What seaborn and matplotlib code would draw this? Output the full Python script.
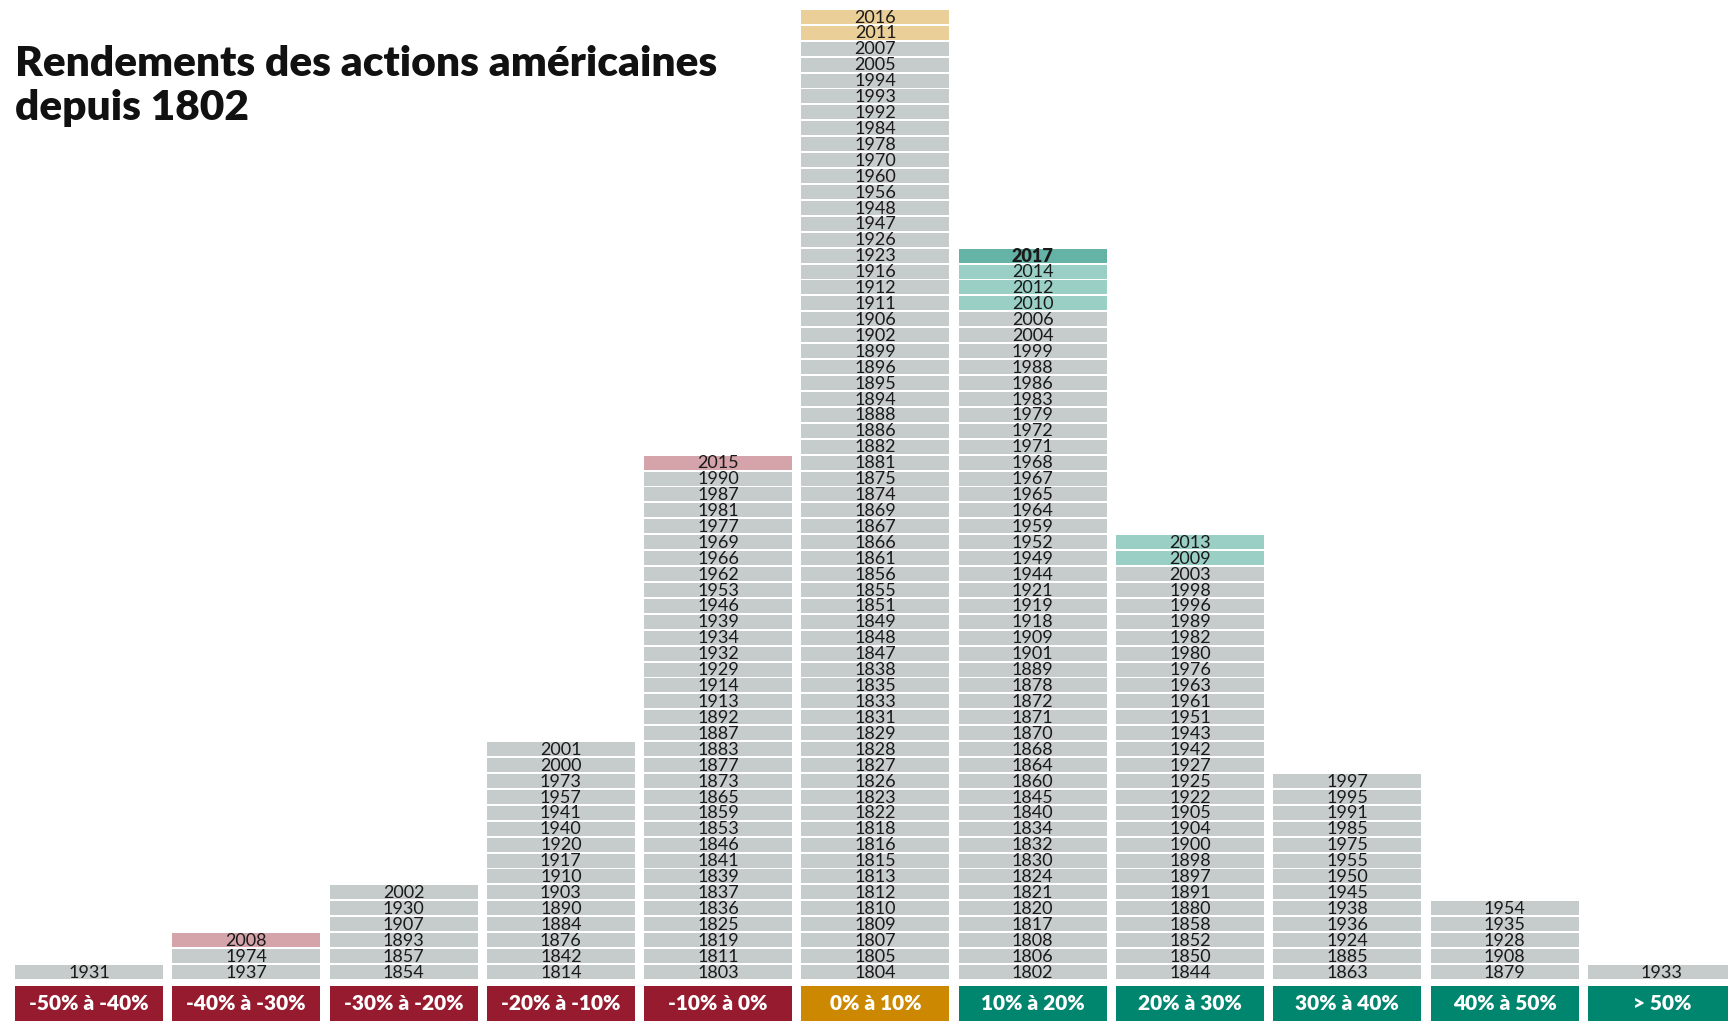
import pandas as pd
import matplotlib
matplotlib.use("Agg")
import matplotlib.pyplot as plt
import seaborn as sns

# return bins (left to right) and their group colour key
bins = ["-50% à -40%", "-40% à -30%", "-30% à -20%", "-20% à -10%", "-10% à 0%",
        "0% à 10%", "10% à 20%", "20% à 30%", "30% à 40%", "40% à 50%", "> 50%"]
bin_groups = ["neg", "neg", "neg", "neg", "neg", "flat", "pos", "pos", "pos", "pos", "pos"]

# years in each bin, listed top to bottom as in the stack
years_m50 = [1931]
years_m40 = [2008, 1974, 1937]
years_m30 = [2002, 1930, 1907, 1893, 1857, 1854]
years_m20 = [2001, 2000, 1973, 1957, 1941, 1940, 1920, 1917, 1910, 1903, 1890, 1884, 1876, 1842, 1814]
years_m10 = [2015, 1990, 1987, 1981, 1977, 1969, 1966, 1962, 1953, 1946, 1939, 1934, 1932, 1929, 1914,
             1913, 1892, 1887, 1883, 1877, 1873, 1865, 1859, 1853, 1846, 1841, 1839, 1837, 1836, 1825,
             1819, 1811, 1803]
years_p0 = [2016, 2011, 2007, 2005, 1994, 1993, 1992, 1984, 1978, 1970, 1960, 1956, 1948, 1947, 1926,
            1923, 1916, 1912, 1911, 1906, 1902, 1899, 1896, 1895, 1894, 1888, 1886, 1882, 1881, 1875,
            1874, 1869, 1867, 1866, 1861, 1856, 1855, 1851, 1849, 1848, 1847, 1838, 1835, 1833, 1831,
            1829, 1828, 1827, 1826, 1823, 1822, 1818, 1816, 1815, 1813, 1812, 1810, 1809, 1807, 1805,
            1804]
years_p10 = [2017, 2014, 2012, 2010, 2006, 2004, 1999, 1988, 1986, 1983, 1979, 1972, 1971, 1968, 1967,
             1965, 1964, 1959, 1952, 1949, 1944, 1921, 1919, 1918, 1909, 1901, 1889, 1878, 1872, 1871,
             1870, 1868, 1864, 1860, 1845, 1840, 1834, 1832, 1830, 1824, 1821, 1820, 1817, 1808, 1806,
             1802]
years_p20 = [2013, 2009, 2003, 1998, 1996, 1989, 1982, 1980, 1976, 1963, 1961, 1951, 1943, 1942, 1927,
             1925, 1922, 1905, 1904, 1900, 1898, 1897, 1891, 1880, 1858, 1852, 1850, 1844]
years_p30 = [1997, 1995, 1991, 1985, 1975, 1955, 1950, 1945, 1938, 1936, 1924, 1885, 1863]
years_p40 = [1954, 1935, 1928, 1908, 1879]
years_p50 = [1933]

# highlighted recent years
pink_years = [2008, 2015]
gold_years = [2011, 2016]
teal_years = [2009, 2010, 2012, 2013, 2014]
current_year = 2017

all_years = [years_m50, years_m40, years_m30, years_m20, years_m10, years_p0,
             years_p10, years_p20, years_p30, years_p40, years_p50]

cell_colors = {"grey": "#c6cbcb", "pink": "#d5a3aa", "gold": "#ebcf98",
               "teal": "#9acfc6", "current": "#64b3a6"}
group_colors = {"neg": "#961b2f", "flat": "#cc8800", "pos": "#00856f"}


def kind_of(y):
    if y == current_year:
        return "current"
    if y in pink_years:
        return "pink"
    if y in gold_years:
        return "gold"
    if y in teal_years:
        return "teal"
    return "grey"


rows = []
for b, ys in zip(bins, all_years):
    for lvl, y in enumerate(reversed(ys)):
        rows.append({"bin": b, "level": lvl, "year": y, "kind": kind_of(y), "h": 0.88})
df = pd.DataFrame(rows)

sns.set_theme(style="white")
plt.rcParams["font.family"] = ["Lato", "DejaVu Sans"]

fig = plt.figure(figsize=(17.28, 10.21), dpi=100)
left = 10.35 / 1728
ax = fig.add_axes([left, 0, 1 - left, 1])

bar_w = 148 / 157.3
kinds = list(cell_colors)
for lvl in range(df["level"].max() + 1):
    sub = df[df["level"] == lvl]
    sns.barplot(data=sub, x="bin", y="h", hue="kind", order=bins, hue_order=kinds,
                palette=cell_colors, dodge=False, bottom=lvl, width=bar_w,
                errorbar=None, saturation=1, linewidth=0, legend=False, ax=ax)

# bin label boxes under the stacks
lab = pd.DataFrame({"bin": bins, "group": bin_groups, "h": 2.2})
sns.barplot(data=lab, x="bin", y="h", hue="group", order=bins,
            palette=group_colors, dodge=False, bottom=-2.64, width=bar_w,
            errorbar=None, saturation=1, linewidth=0, legend=False, ax=ax)

pos = {b: i for i, b in enumerate(bins)}
for r in df.itertuples():
    ax.text(pos[r.bin], r.level + 0.40, str(r.year), ha="center", va="center",
            fontsize=13, color="#1a1a1a",
            fontweight="heavy" if r.year == current_year else "normal")

for i, b in enumerate(bins):
    ax.text(i, -1.56, b, ha="center", va="center", fontsize=15,
            color="white", fontweight="heavy")

ax.set_xlim(-0.5, 10.42)
ax.set_ylim(-2.64, 61.5)
ax.axis("off")

fig.text(15 / 1728, 1 - 45 / 1021, "Rendements des actions américaines\ndepuis 1802",
         ha="left", va="top", fontsize=30.5, fontweight="heavy", color="#111111",
         linespacing=1.2)

fig.savefig("out.png", dpi=100)
